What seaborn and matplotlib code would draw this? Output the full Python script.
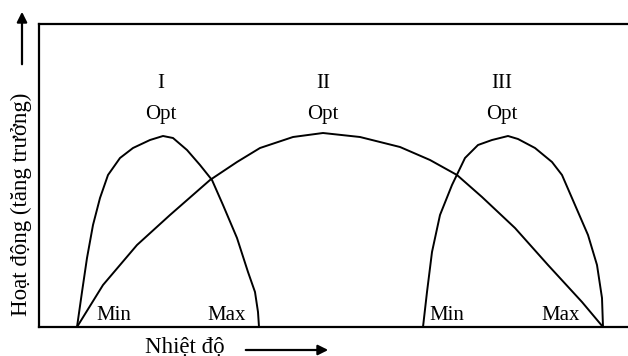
import matplotlib
matplotlib.use("Agg")
import matplotlib.pyplot as plt
import seaborn as sns
import pandas as pd

sns.set_theme(style="white")
plt.rcParams['font.family'] = ['Liberation Serif', 'DejaVu Serif']

# Curve I (narrow curve, low temperature)
curve1_x = [38, 43, 48, 54, 61, 69, 81, 94, 111, 124, 134, 148, 161, 173, 184, 198, 209, 216, 219, 220]
curve1_y = [0, 35, 69, 102, 129, 152, 169, 179, 187, 191, 189, 177, 162, 147, 122, 89, 55, 35, 15, 0]
# Curve II (broad curve)
curve2_x = [38, 64, 98, 131, 171, 198, 221, 254, 284, 321, 361, 391, 418, 443, 476, 509, 543, 564]
curve2_y = [0, 42, 82, 112, 147, 165, 179, 190, 194, 190, 180, 167, 152, 130, 99, 62, 25, 0]
# Curve III (narrow curve, high temperature)
curve3_x = [384, 388, 393, 401, 413, 426, 439, 453, 469, 479, 496, 513, 523, 536, 549, 558, 563, 564]
curve3_y = [0, 35, 75, 112, 142, 169, 182, 187, 191, 188, 179, 165, 152, 122, 92, 62, 29, 0]

labels_top = ["I", "II", "III"]
label_opt = "Opt"
label_x = [122, 284, 463]
minmax_text = ["Min", "Max", "Min", "Max"]
minmax_x = [75, 188, 408, 522]

fig = plt.figure(figsize=(6.28, 3.56), dpi=100)
ax = fig.add_axes([39/628, 29/356, 1 - 39/628, 303/356])

frames = []
for name, xs, ys in [("I", curve1_x, curve1_y), ("II", curve2_x, curve2_y), ("III", curve3_x, curve3_y)]:
    frames.append(pd.DataFrame({"x": xs, "y": ys, "curve": name}))
df = pd.concat(frames, ignore_index=True)

for name in ["I", "II", "III"]:
    sub = df[df["curve"] == name]
    sns.lineplot(data=sub, x="x", y="y", sort=False, estimator=None, color="black", lw=1.4, ax=ax)

ax.set_xlim(0, 589)
ax.set_ylim(0, 303)
ax.set_xticks([])
ax.set_yticks([])
ax.set_xlabel("")
ax.set_ylabel("")
for s in ["left", "top", "bottom"]:
    ax.spines[s].set_color("black")
    ax.spines[s].set_linewidth(1.6)
ax.spines["right"].set_visible(False)

fs = 15
for lab, x in zip(labels_top, label_x):
    ax.text(x, 244, lab, ha="center", va="center", fontsize=fs, color="black")
    ax.text(x, 212, label_opt, ha="center", va="center", fontsize=fs, color="black")
for lab, x in zip(minmax_text, minmax_x):
    ax.text(x, 12, lab, ha="center", va="center", fontsize=fs, color="black")

fig.text(21/628, 152/356, "Hoạt động (tăng trưởng)", rotation=90, ha="center", va="center",
         fontsize=16.5, color="black")
fig.text(185/628, 9/356, "Nhiệt độ", ha="center", va="center", fontsize=16.5, color="black")

ax.annotate("", xy=(22, 347), xytext=(22, 289), xycoords="figure pixels", textcoords="figure pixels",
            arrowprops=dict(arrowstyle="-|>", color="black", lw=1.6, mutation_scale=15), annotation_clip=False)
ax.annotate("", xy=(331, 6), xytext=(243, 6), xycoords="figure pixels", textcoords="figure pixels",
            arrowprops=dict(arrowstyle="-|>", color="black", lw=1.6, mutation_scale=15), annotation_clip=False)

fig.savefig("out.png", dpi=100)
